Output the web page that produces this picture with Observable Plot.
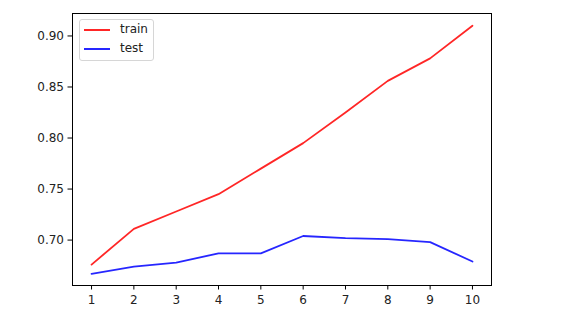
<!DOCTYPE html>
<html>
<head>
<meta charset="utf-8">
<script src="https://cdn.jsdelivr.net/npm/d3@7"></script>
<script src="https://cdn.jsdelivr.net/npm/@observablehq/plot@0.6"></script>
<style>
  html, body { margin: 0; padding: 0; background: #fff; }
  #wrap { position: relative; width: 570px; height: 319px; }
  #legend { position: absolute; left: 79px; top: 19px; width: 75px; height: 42px; box-sizing: border-box;
    border: 1px solid #d6d6d6; border-radius: 3px; background: rgba(255,255,255,0.8);
    font-family: "DejaVu Sans", sans-serif; font-size: 12px; color: #222; }
  .sw { position: absolute; left: 4px; width: 26px; height: 2px; opacity: 0.85; }
  .lab { position: absolute; left: 40px; line-height: 14px; }
</style>
</head>
<body>
<div id="wrap">
  <div id="chart"></div>
  <div id="legend"></div>
</div>
<script>
const epochs = [1, 2, 3, 4, 5, 6, 7, 8, 9, 10];
const train = [0.676, 0.711, 0.728, 0.745, 0.770, 0.795, 0.825, 0.856, 0.878, 0.910];
const test = [0.667, 0.674, 0.678, 0.687, 0.687, 0.704, 0.702, 0.701, 0.698, 0.679];
const seriesNames = ["train", "test"];
const seriesColors = ["red", "blue"];
const yTicks = [0.70, 0.75, 0.80, 0.85, 0.90];

const rows = [];
epochs.forEach((e, i) => rows.push({epoch: e, value: train[i], series: "train"}));
epochs.forEach((e, i) => rows.push({epoch: e, value: test[i], series: "test"}));

const chart = Plot.plot({
  width: 570,
  height: 319,
  marginLeft: 72,
  marginRight: 79,
  marginTop: 13,
  marginBottom: 34,
  style: {fontFamily: "DejaVu Sans, sans-serif", fontSize: "12px", color: "#222", background: "#fff"},
  x: {domain: [0.55, 10.45]},
  y: {domain: [0.6555, 0.922]},
  color: {domain: seriesNames, range: seriesColors},
  marks: [
    Plot.line(rows, {x: "epoch", y: "value", z: "series", stroke: "series", strokeWidth: 1.8, strokeOpacity: 0.85}),
    Plot.frame({stroke: "#000", strokeWidth: 1}),
    Plot.axisX({ticks: epochs, tickFormat: d => String(d), tickSize: 4.5, tickPadding: 5, label: null, fontSize: 12, stroke: "#000"}),
    Plot.axisY({ticks: yTicks, tickFormat: d3.format(".2f"), tickSize: 4.5, tickPadding: 4, label: null, fontSize: 12, stroke: "#000"})
  ]
});
document.getElementById("chart").appendChild(chart);

const legend = document.getElementById("legend");
seriesNames.forEach((name, i) => {
  const cy = 10 + i * 18.5;
  const sw = document.createElement("div");
  sw.className = "sw";
  sw.style.top = (cy - 1) + "px";
  sw.style.background = seriesColors[i];
  const t = document.createElement("div");
  t.className = "lab";
  t.style.top = (cy - 8) + "px";
  t.textContent = name;
  legend.appendChild(sw);
  legend.appendChild(t);
});
</script>
</body>
</html>
